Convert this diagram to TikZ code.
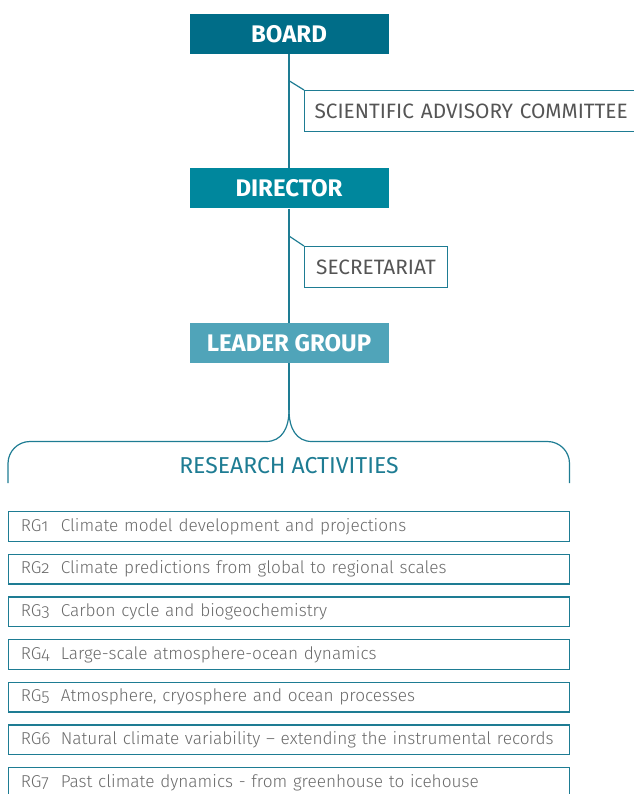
\documentclass[tikz,border=0pt]{standalone}
\usepackage{fontspec}
\setmainfont{Fira Sans}[Numbers=OldStyle]
\newfontfamily\thinfont{Fira Sans Light}[Numbers=OldStyle]
\definecolor{boardteal}{HTML}{006D88}
\definecolor{directorteal}{HTML}{00879D}
\definecolor{leaderteal}{HTML}{50A4B9}
\definecolor{lineteal}{HTML}{1E7C93}
\definecolor{sidegray}{HTML}{555555}
\definecolor{rggray}{HTML}{6A6A6A}

\begin{document}
\begin{tikzpicture}[x=1pt,y=-1pt,
   headbox/.style={rectangle,minimum width=199pt,minimum height=40pt,inner sep=0pt,
      text=white,font=\fontsize{24}{28}\selectfont\bfseries},
   sidebox/.style={rectangle,draw=lineteal,line width=1.2pt,anchor=north west,
      minimum height=41pt,inner xsep=10pt,text=sidegray,font=\fontsize{20.8}{24}\selectfont},
   groupbox/.style={rectangle,draw=lineteal,line width=1.3pt,minimum height=29.5pt,
      text width=537pt,inner xsep=12pt,inner ysep=0pt,align=left,text=rggray,
      font=\thinfont\fontsize{17.2}{21}\selectfont},
   link/.style={draw=lineteal,line width=1.2pt}]
   \useasboundingbox (0,0) rectangle (633,794);
   % chain of command down the middle
   \node[headbox,fill=boardteal] (board) at (289,34) {BOARD};
   \node[headbox,fill=directorteal] (director) at (289,188.5) {DIRECTOR};
   \node[headbox,fill=leaderteal] (leader) at (289,343) {LEADER GROUP};
   \node[sidebox,text width=320pt,align=left] (sac) at (304,90) {SCIENTIFIC ADVISORY COMMITTEE};
   \node[sidebox,minimum width=142.7pt] (sec) at (304,246) {SECRETARIAT};
   \coordinate (sacjoin) at (289,80.7);
   \coordinate (secjoin) at (289,236);
   \draw[link] (board) -- (director) -- (leader);
   \draw[link] (sacjoin) -- (sac.north west);
   \draw[link] (secjoin) -- (sec.north west);
   % bracket over the research groups
   \coordinate (cusp) at (289,410);
   \coordinate (bl) at (266,441.5);
   \coordinate (br) at (312,441.5);
   \draw[link] (leader.south) -- (cusp);
   \draw[link] (cusp) .. controls (289,428) and (282,441.5) .. (bl);
   \draw[link] (cusp) .. controls (289,428) and (296,441.5) .. (br);
   \draw[link,rounded corners=22pt] (bl) -- (8,441.5) -- (8,483);
   \draw[link,rounded corners=22pt] (br) -- (569.5,441.5) -- (569.5,483);
   \node[text=lineteal,font=\fontsize{23}{26}\selectfont] (research) at (289,466) {RESEARCH ACTIVITIES};
   % research groups; format: {number/title}
   \foreach \n/\txt in {{1/Climate model development and projections},
      {2/Climate predictions from global to regional scales},
      {3/Carbon cycle and biogeochemistry},
      {4/Large-scale atmosphere-ocean dynamics},
      {5/Atmosphere, cryosphere and ocean processes},
      {6/Natural climate variability – extending the instrumental records},
      {7/Past climate dynamics - from greenhouse to icehouse}}
      \node[groupbox] (rg\n) at (289.3,{526.5+(\n-1)*42.67}) {\makebox[40pt][l]{RG\n}\mbox{\txt}};
\end{tikzpicture}
\end{document}
